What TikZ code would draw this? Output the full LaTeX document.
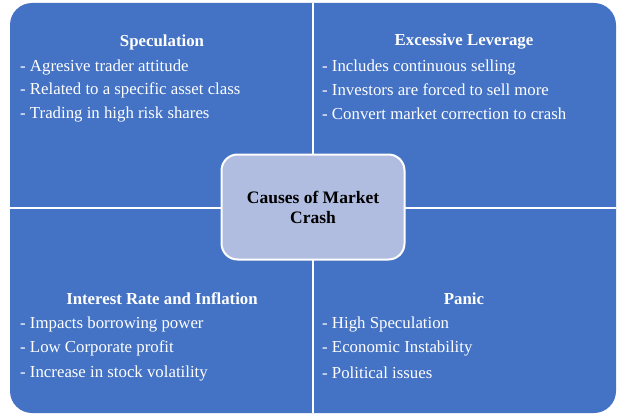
\documentclass[tikz,border=0pt]{standalone}
\usepackage{fontspec}
\setmainfont{Liberation Serif}
\usetikzlibrary{positioning}
\definecolor{quadblue}{HTML}{4472C4}
\definecolor{hubfill}{HTML}{B0BDE0}
\tikzset{
	head/.style={font=\fontsize{16.8}{19}\selectfont\bfseries,text=white,inner sep=0pt},
	item/.style={font=\fontsize{16.8}{19}\selectfont,text=white,inner sep=0pt,anchor=west},
}
\begin{document}
\begin{tikzpicture}[x=1pt,y=-1pt]
	\useasboundingbox (0,0) rectangle (626,417);
	% quadrants
	\fill[quadblue,rounded corners=22pt] (10,3) rectangle (616,413);
	\draw[white,line width=2pt] (313,3) -- (313,413);
	\draw[white,line width=2pt] (10,208) -- (616,208);
	% hub
	\node[draw=white,line width=2pt,fill=hubfill,rounded corners=16pt,minimum width=183pt,minimum height=105pt,align=center,font=\fontsize{17.5}{20}\selectfont\bfseries] (hub) at (313,207) {Causes of Market\\Crash};
	% top left
	\node[head] (spec) at (162,42) {Speculation};
	\node[item] (s1) at (20,67) {- Agresive trader attitude};
	\node[item] (s2) at (20,90) {- Related to a specific asset class};
	\node[item] (s3) at (20,114) {- Trading in high risk shares};
	% top right
	\node[head] (lev) at (464,42) {Excessive Leverage};
	\node[item] (l1) at (322,67) {- Includes continuous selling};
	\node[item] (l2) at (322,90) {- Investors are forced to sell more};
	\node[item] (l3) at (322,114) {- Convert market correction to crash};
	% bottom left
	\node[head] (rate) at (162,299) {Interest Rate and Inflation};
	\node[item] (r1) at (20,324) {- Impacts borrowing power};
	\node[item] (r2) at (20,348) {- Low Corporate profit};
	\node[item] (r3) at (20,373) {- Increase in stock volatility};
	% bottom right
	\node[head] (panic) at (464,299) {Panic};
	\node[item] (p1) at (322,324) {- High Speculation};
	\node[item] (p2) at (322,348) {- Economic Instability};
	\node[item] (p3) at (322,373) {- Political issues};
\end{tikzpicture}
\end{document}
